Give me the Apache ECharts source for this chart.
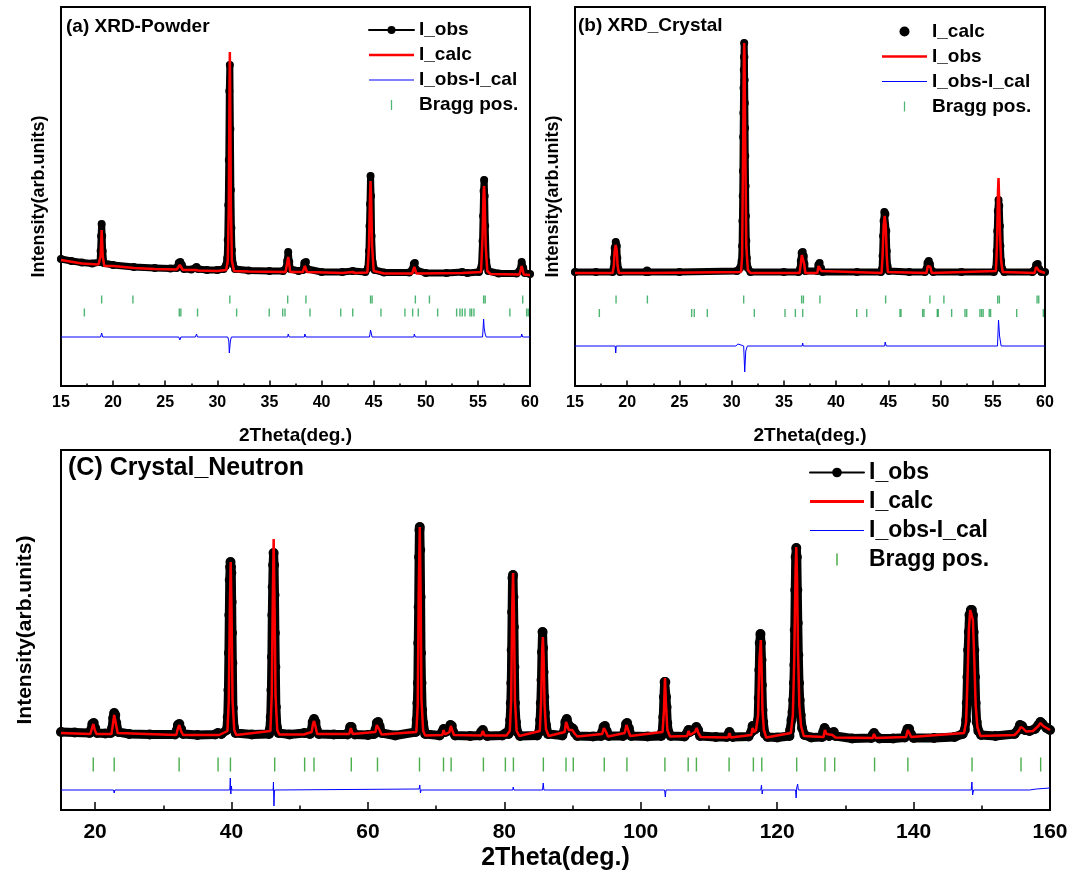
<!DOCTYPE html>
<html>
<head>
<meta charset="utf-8">
<script src="https://cdn.jsdelivr.net/npm/echarts@6/dist/echarts.min.js"></script>
<style>
  html, body { margin: 0; padding: 0; background: #fff; }
  #main { width: 1078px; height: 873px; }
</style>
</head>
<body>
<div id="main"></div>
<script>
// ---- (a) XRD-Powder ----
var aObs = [[15,127],[16,125],[17,123.5],[18,122.5],[18.75,124],[18.8,135],[18.85,150],[18.9,162],[18.95,150],[19.0,135],[19.1,123],[20,121],[22,119],[24,118],[25.5,117.5],[26.1,118],[26.3,123],[26.45,124],[26.6,121],[26.8,117],[27.5,116.5],[27.9,118],[28.0,119],[28.15,117],[29,116],[30,116],[30.6,117],[30.8,120],[30.95,128],[31.0,146],[31.05,181],[31.1,226],[31.15,295],[31.2,321],[31.25,257],[31.3,196],[31.35,158],[31.4,136],[31.5,122],[31.7,117],[33,115.5],[35,115],[36.3,115],[36.6,118],[36.7,125],[36.8,134],[36.9,124],[37.0,117],[37.8,115],[38.2,116],[38.35,123],[38.5,124],[38.65,117],[40,114],[42,114],[43,115],[44.2,114],[44.45,118],[44.55,135],[44.6,160],[44.65,182],[44.7,210],[44.75,190],[44.8,150],[44.9,124],[45.1,116],[46,113.5],[48.4,113.5],[48.7,116],[48.85,122],[48.95,123],[49.1,116],[50,113],[52,113],[53.5,114],[54,113],[55.1,114],[55.35,120],[55.45,145],[55.5,170],[55.55,195],[55.6,206],[55.65,190],[55.7,160],[55.8,125],[56.0,115],[57,112.5],[58.7,112.5],[59.05,116],[59.2,124],[59.35,118],[59.5,113],[60,112]];
var aCalc = [[15,126],[17,122.5],[18.6,121.5],[18.8,130],[18.9,156],[19.0,130],[19.15,120],[20,120],[22,118],[24,117],[26.1,116.5],[26.4,121],[26.7,116],[27.9,116],[28.0,118],[28.15,115.5],[30,115],[30.85,116],[31.0,125],[31.1,180],[31.17,300],[31.2,334],[31.23,300],[31.3,180],[31.4,125],[31.6,115],[33,114.5],[36.55,114],[36.8,129],[37.0,114],[38.2,114],[38.4,120],[38.6,114],[42,113],[43,114],[43.2,113],[44.4,113.5],[44.55,140],[44.65,190],[44.7,205],[44.75,190],[44.85,140],[45.0,115],[46,112.5],[48.7,112.5],[48.9,119],[49.1,112.5],[53.5,113],[55.3,114],[55.45,150],[55.55,195],[55.6,200],[55.65,185],[55.75,140],[55.9,115],[56.2,112],[59.0,111.5],[59.2,120],[59.4,111.5],[60,111]];
var aDiff = [[15,49],[18.8,49],[18.9,53],[19.0,49],[26.3,49],[26.4,46],[26.5,49],[27.9,49],[28.0,52],[28.1,49],[31.0,49],[31.1,45],[31.15,33],[31.25,45],[31.35,49],[36.75,49],[36.8,52],[36.9,49],[38.35,49],[38.4,52],[38.5,49],[44.6,49],[44.7,56],[44.85,49],[48.85,49],[48.9,52],[49.0,49],[55.45,49],[55.55,67],[55.6,58],[55.7,52],[55.8,49],[59.15,49],[59.2,52],[59.3,49],[60,49]];
var aBraggTop = [18.9,21.9,31.2,36.75,38.5,44.7,44.85,49.0,50.35,55.55,55.7,59.3];
var aBraggLow = [17.24,26.35,26.5,28.1,31.85,34.98,36.27,36.49,38.89,41.84,42.99,45.7,48.0,48.74,49.28,51.14,52.96,53.28,53.5,53.76,54.24,54.4,54.62,58.07,59.68,59.83];

// ---- (b) XRD_Crystal ----
var bObs = [[15,114],[17,114],[18.6,114],[18.7,118],[18.75,128],[18.8,138],[18.9,144],[19.0,140],[19.05,128],[19.15,117],[19.3,114],[21.8,114],[21.9,115.5],[22.0,114],[25,114],[30.5,115],[30.8,118],[30.95,125],[31.0,140],[31.03,165],[31.06,190],[31.08,215],[31.1,249],[31.12,273],[31.14,298],[31.16,316],[31.18,329],[31.2,343],[31.22,329],[31.24,306],[31.26,283],[31.28,258],[31.3,230],[31.33,200],[31.36,170],[31.4,145],[31.45,128],[31.55,118],[31.8,114],[35,114],[36.4,114],[36.55,117],[36.62,125],[36.7,133],[36.8,134],[36.9,130],[36.97,122],[37.05,115],[38.2,115],[38.3,121],[38.42,123],[38.55,118],[38.7,114],[42,114],[44.3,114],[44.4,117],[44.45,130],[44.5,150],[44.55,165],[44.62,174],[44.72,172],[44.8,155],[44.85,135],[44.92,120],[45.05,115],[47,114],[48.5,114],[48.65,117],[48.75,123],[48.87,125],[48.98,122],[49.1,116],[49.3,114],[52,114],[55.1,114],[55.3,118],[55.38,135],[55.43,155],[55.48,175],[55.55,186],[55.62,180],[55.68,160],[55.73,140],[55.8,125],[55.9,117],[56.1,114],[58.8,114],[59.0,116],[59.15,121],[59.3,122],[59.45,117],[59.65,114],[60,114]];
var bCalc = [[15,113],[18.6,113],[18.72,120],[18.8,135],[18.9,141],[19.0,135],[19.08,120],[19.2,113],[21.8,113],[21.9,115],[22.0,113],[30.9,114],[31.0,130],[31.1,240],[31.17,330],[31.2,343],[31.23,330],[31.3,240],[31.4,140],[31.55,116],[31.8,113],[36.5,113],[36.62,122],[36.72,131],[36.85,131],[36.95,122],[37.05,113],[38.2,113],[38.32,120],[38.45,121],[38.58,115],[38.7,113],[44.35,113],[44.45,130],[44.55,160],[44.65,170],[44.75,160],[44.85,130],[44.95,114],[45.1,113],[48.65,113],[48.78,120],[48.9,122],[49.02,119],[49.15,113],[55.3,115],[55.4,140],[55.5,195],[55.55,208],[55.6,190],[55.7,150],[55.8,125],[55.95,114],[59.0,113],[59.15,119],[59.3,120],[59.45,115],[59.6,113],[60,113]];
var bDiff = [[15,40],[18.85,40],[18.9,33],[18.95,40],[30.4,40],[30.6,42],[30.9,41],[31.15,40],[31.25,14],[31.35,35],[31.5,40],[36.75,40],[36.8,43],[36.85,40],[44.65,40],[44.7,44],[44.8,40],[55.45,40],[55.55,66],[55.65,50],[55.8,40],[60,40]];
var bBraggTop = [18.93,21.93,31.15,36.7,36.87,38.45,44.74,48.98,50.32,55.47,55.63,59.24,59.4];
var bBraggLow = [17.33,26.17,26.42,27.67,32.17,35.11,36.1,36.8,41.97,42.93,46.12,46.21,48.29,48.41,49.69,49.78,51.06,52.34,52.5,53.77,53.93,54.08,54.66,54.79,57.29,59.84];

// ---- (C) Crystal_Neutron ----
var cObs = [[15,78],[17,77.5],[19.2,77],[19.4,80],[19.6,86],[19.8,87],[20.0,82],[20.3,77],[21.5,76.5],[22.3,77],[22.5,82],[22.65,92],[22.8,97],[22.95,95],[23.1,87],[23.4,78],[25,76],[28,75.5],[31.7,75.5],[31.95,79],[32.15,85],[32.35,86],[32.6,81],[32.9,76],[35,75],[37.6,75.5],[38.0,77],[38.5,76],[39.3,80],[39.45,93],[39.55,120],[39.62,157],[39.68,195],[39.74,230],[39.8,243],[39.85,248],[39.92,243],[39.97,237],[40.02,208],[40.07,177],[40.12,147],[40.2,102],[40.35,83],[40.6,77],[43,75.5],[45.5,76],[45.6,80],[45.75,93],[45.85,120],[45.92,153],[45.98,195],[46.04,223],[46.1,245],[46.17,257],[46.24,245],[46.3,215],[46.36,177],[46.42,143],[46.5,103],[46.65,83],[46.9,77],[48.5,75.5],[50.7,77],[51.5,76],[51.7,79],[51.9,88],[52.1,91],[52.3,88],[52.5,80],[52.8,76],[55,75.5],[57.0,75.5],[57.2,78],[57.4,83],[57.6,83],[57.8,78],[58.1,75.5],[60,75],[60.9,76],[61.1,80],[61.3,87],[61.5,88],[61.7,84],[62.0,77],[64,74.5],[67.0,78],[67.15,90],[67.25,107],[67.32,127],[67.38,167],[67.44,203],[67.5,253],[67.55,280],[67.6,283],[67.66,260],[67.72,213],[67.78,157],[67.85,127],[67.95,100],[68.1,87],[68.4,76],[70.5,74.5],[70.9,78],[71.1,81],[71.35,78],[71.9,80],[72.1,85],[72.3,84],[72.5,78],[72.8,74.5],[75,74],[76.4,74.5],[76.6,78],[76.85,80],[77.1,76],[77.5,74],[79.7,74.5],[80.15,76.5],[80.6,76],[80.7,80],[80.85,90],[80.95,107],[81.02,127],[81.08,160],[81.14,198],[81.2,232],[81.27,235],[81.33,213],[81.4,183],[81.47,143],[81.55,107],[81.7,88],[81.9,78],[82.3,74],[84.8,74.5],[85.1,78],[85.25,90],[85.35,107],[85.45,130],[85.52,158],[85.6,178],[85.68,162],[85.75,138],[85.85,113],[85.95,97],[86.1,85],[86.4,76],[88.5,74.5],[88.8,80],[88.95,88],[89.15,91],[89.4,85],[89.9,82],[90.1,81],[90.35,77],[90.7,74],[93,73.5],[94.2,74],[94.35,78],[94.55,83],[94.75,84],[95.0,79],[95.3,74],[97.4,74],[97.65,79],[97.85,86],[98.0,87],[98.25,82],[98.6,74],[101,73.5],[103.0,74],[103.15,78],[103.3,93],[103.4,113],[103.5,128],[103.6,128],[103.7,113],[103.78,103],[103.88,87],[104.05,78],[104.4,74],[106.4,73.5],[106.8,77],[107.0,80],[107.2,78],[107.9,80],[108.15,83],[108.4,80],[108.7,74],[111,73],[112.6,73],[112.85,75],[113.0,78],[113.2,75],[113.5,73],[115.8,73.5],[116.2,78],[116.4,84],[116.6,80],[117.0,82],[117.2,90],[117.3,112],[117.38,140],[117.45,167],[117.55,176],[117.62,167],[117.7,150],[117.76,125],[117.85,100],[117.95,88],[118.2,76],[118.6,73],[120,72.5],[121.8,74],[121.9,80],[122.1,90],[122.25,98],[122.35,110],[122.45,127],[122.52,145],[122.58,180],[122.65,220],[122.72,253],[122.8,262],[122.88,253],[122.95,220],[123.02,187],[123.1,155],[123.2,127],[123.3,110],[123.45,95],[123.65,82],[124.0,75],[125,72.5],[126.6,73],[126.75,78],[126.95,82],[127.2,79],[127.6,74],[128.1,77],[128.3,78],[128.55,74],[131,71.5],[133.8,72],[134.0,75],[134.2,77],[134.5,74],[135,71.5],[137,71.5],[138.7,72.5],[138.9,77],[139.1,81],[139.35,81],[139.6,76],[140,72],[143,72],[146,73],[147.2,76],[147.5,80],[147.7,90],[147.8,107],[147.9,133],[148.0,160],[148.1,178],[148.2,195],[148.4,200],[148.55,200],[148.7,195],[148.8,178],[148.9,160],[149.0,133],[149.1,107],[149.25,88],[149.5,79],[149.9,75],[152,74],[154.8,76],[155.3,80],[155.6,85],[155.9,84],[156.3,80],[157,79],[157.8,81],[158.3,85],[158.6,88],[158.9,86],[159.5,82],[160,80]];
var cCalc = [[15,77],[19.3,76],[19.55,82],[19.75,86],[19.95,80],[20.2,76],[22.4,76],[22.6,85],[22.8,95],[23.0,88],[23.3,77],[31.9,75],[32.15,82],[32.35,85],[32.6,79],[32.9,75],[37.8,75],[38.0,76.5],[38.2,75],[39.4,79],[39.6,110],[39.75,200],[39.88,248],[40.0,200],[40.15,110],[40.4,80],[40.7,75],[45.7,79],[45.9,115],[46.05,210],[46.18,271],[46.3,210],[46.45,115],[46.7,80],[47.0,75.5],[50.6,75.5],[50.7,77],[50.8,75.5],[51.75,78],[51.95,86],[52.1,89],[52.3,84],[52.55,76],[57.25,76],[57.5,82],[57.75,76],[61.1,78],[61.3,85],[61.45,87],[61.7,80],[62.0,75.5],[67.1,78],[67.3,105],[67.45,220],[67.6,283],[67.72,220],[67.85,110],[68.1,79],[68.4,74.5],[70.9,75],[71.1,80],[71.3,75.5],[71.95,78],[72.15,84],[72.35,82],[72.6,75],[76.6,74.5],[76.85,79],[77.1,74.5],[80.0,74.5],[80.15,76],[80.3,74.5],[80.8,79],[81.0,110],[81.15,200],[81.28,237],[81.4,200],[81.55,110],[81.8,79],[82.2,74],[85.2,79],[85.4,110],[85.55,160],[85.65,173],[85.77,150],[85.9,105],[86.1,81],[86.5,74],[88.85,78],[89.05,88],[89.2,89],[89.45,80],[89.95,80],[90.1,80],[90.35,76],[90.7,73.5],[94.35,76],[94.6,82],[94.85,79],[95.2,73.5],[97.65,77],[97.9,85],[98.1,84],[98.45,74],[103.2,78],[103.4,100],[103.55,132],[103.7,105],[103.9,80],[104.3,73.5],[106.8,74],[107.0,79],[107.2,75],[107.95,78],[108.2,82],[108.45,77],[108.8,73],[112.8,72.5],[113.0,77],[113.2,72.5],[116.2,75],[116.4,82],[116.6,78],[116.9,80],[117.2,95],[117.4,150],[117.6,170],[117.72,140],[117.85,100],[118.05,80],[118.4,72.5],[122.0,77],[122.3,95],[122.5,150],[122.7,240],[122.8,263],[122.92,230],[123.05,160],[123.25,105],[123.5,84],[123.9,74],[126.8,73],[127.0,80],[127.25,76],[128.1,75],[128.3,77],[128.55,72.5],[134.0,72],[134.2,76],[134.45,72],[138.9,73],[139.15,80],[139.35,79],[139.65,73],[147.4,77],[147.7,88],[147.9,130],[148.1,180],[148.3,200],[148.5,202],[148.7,190],[148.9,150],[149.1,105],[149.35,83],[149.8,74],[154.8,75],[155.4,79],[155.7,83],[156.0,82],[156.5,78.5],[157.5,79],[158.3,84],[158.6,87],[159.0,84],[160,80]];
var cDiff = [[15,20],[22.7,20],[22.8,17],[22.9,20],[39.75,20],[39.82,32],[39.9,16],[39.98,24],[40.05,20],[46.1,20],[46.15,28],[46.22,4],[46.3,20],[67.5,21],[67.6,25],[67.7,17],[67.8,20],[81.25,20],[81.3,23],[81.4,20],[85.6,20],[85.7,27],[85.8,20],[103.5,20],[103.6,13],[103.7,20],[117.6,20],[117.7,25],[117.8,16],[117.9,20],[122.7,20],[122.78,12],[122.86,22],[123.0,26],[123.1,20],[148.45,20],[148.55,28],[148.65,15],[148.8,20],[157,20],[158,21],[160,22]];
var cBragg = [19.73,22.8,32.32,38.03,39.84,46.33,50.72,52.09,57.56,61.4,67.56,71.08,72.2,76.93,80.15,81.33,85.72,89.04,90.11,94.65,97.97,103.54,106.95,108.16,112.95,116.51,117.74,122.86,127.01,128.43,134.28,139.16,148.57,155.75,158.63];
var cMajorTicks = [20, 40, 60, 80, 100, 120, 140, 160];
var cMinorTicks = [30, 50, 70, 90, 110, 130, 150];

var FONT = "'Liberation Sans', Arial, sans-serif";
var txt = function (size) {
    return { color: '#000', fontSize: size, lineHeight: size, fontWeight: 'bold', fontFamily: FONT };
};

function panel(i, labels, obs, calc, diff, rows, dot, green, tickH) {
    var bragg = [];
    rows.forEach(function (r) {
        r.pos.forEach(function (x) { bragg.push([x, r.y]); });
    });
    return [
        {
            name: labels[0], type: 'line', xAxisIndex: i, yAxisIndex: i, data: obs,
            color: '#000', symbol: 'circle', symbolSize: dot, showAllSymbol: true,
            lineStyle: { width: dot - 1, join: 'round', cap: 'round' }, z: 2
        },
        {
            name: labels[1], type: 'line', xAxisIndex: i, yAxisIndex: i, data: calc,
            color: '#ff0000', symbol: 'none', lineStyle: { width: 2.5 }, z: 3
        },
        {
            name: labels[2], type: 'line', xAxisIndex: i, yAxisIndex: i, data: diff,
            color: '#0000ff', symbol: 'none', lineStyle: { width: 1 }, z: 3
        },
        {
            name: labels[3], type: 'scatter', xAxisIndex: i, yAxisIndex: i, data: bragg,
            color: green, symbol: 'rect', symbolSize: [1.4, tickH], z: 3
        }
    ];
}

function xAx(grid, fs, titleFs, margin, gap) {
    return {
        gridIndex: grid, type: 'value', min: 15, max: 60, interval: 5,
        axisLine: { lineStyle: { color: '#000', width: 2 } },
        axisTick: { inside: true, length: 5.5, lineStyle: { color: '#000', width: 1.5 } },
        minorTick: { show: true, splitNumber: 2, length: 2.5, lineStyle: { color: '#000', width: 1.5 } },
        axisLabel: Object.assign(txt(fs), { margin: margin, showMinLabel: true, showMaxLabel: true }),
        splitLine: { show: false },
        name: '2Theta(deg.)', nameLocation: 'middle', nameGap: gap, nameTextStyle: txt(titleFs)
    };
}

function yAx(grid, max, fs, gap) {
    return {
        gridIndex: grid, type: 'value', min: 0, max: max,
        axisLine: { show: false }, axisTick: { show: false }, axisLabel: { show: false },
        splitLine: { show: false },
        name: 'Intensity(arb.units)', nameLocation: 'middle', nameGap: gap, nameTextStyle: txt(fs)
    };
}

var fmt = function (n) { return n.split('|')[1]; };
var lineIcon = 'path://M0,0H45V2.5H0Z';
var thinIcon = 'path://M0,0H45V1H0Z';
var tickIcon = 'path://M0,0H1V8H0Z';
var noBorder = { borderWidth: 0 };

var option = {
    animation: false,
    backgroundColor: '#fff',
    title: [
        { text: '(a) XRD-Powder', left: 66, top: 17.5, padding: 0, textStyle: txt(19) },
        { text: '(b) XRD_Crystal', left: 578, top: 16.5, padding: 0, textStyle: txt(19) },
        { text: '(C) Crystal_Neutron', left: 68, top: 456, padding: 0, textStyle: txt(25) }
    ],
    legend: [
        {
            left: 368, top: 20.5, orient: 'vertical', padding: 0, itemWidth: 45, itemHeight: 10, itemGap: 6,
            selectedMode: false, formatter: fmt, textStyle: txt(19),
            data: [
                { name: 'a|I_obs', lineStyle: { width: 2 } },
                { name: 'a|I_calc', icon: lineIcon, itemStyle: noBorder },
                { name: 'a|I_obs-I_cal', icon: thinIcon, itemStyle: noBorder },
                { name: 'a|Bragg pos.', icon: tickIcon, itemStyle: noBorder }
            ]
        },
        {
            left: 882, top: 22, orient: 'vertical', padding: 0, itemWidth: 45, itemHeight: 10, itemGap: 6,
            selectedMode: false, formatter: fmt, textStyle: txt(19),
            data: [
                { name: 'b|I_calc', icon: 'circle', itemStyle: noBorder },
                { name: 'b|I_obs', icon: lineIcon, itemStyle: noBorder },
                { name: 'b|I_obs-I_cal', icon: thinIcon, itemStyle: noBorder },
                { name: 'b|Bragg pos.', icon: tickIcon, itemStyle: noBorder }
            ]
        },
        {
            left: 809, top: 461, orient: 'vertical', padding: 0, itemWidth: 54, itemHeight: 12, itemGap: 6,
            selectedMode: false, formatter: fmt, textStyle: txt(23),
            data: [
                { name: 'c|I_obs', lineStyle: { width: 2 } },
                { name: 'c|I_calc', icon: 'path://M0,0H54V3H0Z', itemStyle: noBorder },
                { name: 'c|I_obs-I_cal', icon: 'path://M0,0H54V1H0Z', itemStyle: noBorder },
                { name: 'c|Bragg pos.', icon: tickIcon, itemStyle: noBorder }
            ]
        }
    ],
    grid: [
        { left: 61, top: 7, width: 469, height: 379, show: true, borderColor: '#000', borderWidth: 2 },
        { left: 575, top: 7, width: 470, height: 379, show: true, borderColor: '#000', borderWidth: 2 },
        { left: 61, top: 450, width: 989, height: 360, show: true, borderColor: '#000', borderWidth: 2 }
    ],
    xAxis: [
        xAx(0, 16, 19, 9, 40),
        xAx(1, 16, 19, 9, 40),
        {
            gridIndex: 2, type: 'value', min: 15, max: 160, position: 'bottom',
            axisLine: { lineStyle: { color: '#000', width: 2 } },
            axisTick: { inside: true, length: 8, customValues: cMajorTicks, lineStyle: { color: '#000', width: 1.5 } },
            axisLabel: Object.assign(txt(21), { margin: 12, customValues: cMajorTicks }),
            splitLine: { show: false },
            name: '2Theta(deg.)', nameLocation: 'middle', nameGap: 36, nameTextStyle: txt(25)
        },
        {
            gridIndex: 2, type: 'value', min: 15, max: 160, position: 'bottom',
            axisLine: { show: false },
            axisTick: { inside: true, length: 4.5, customValues: cMinorTicks, lineStyle: { color: '#000', width: 1.5 } },
            axisLabel: { show: false },
            splitLine: { show: false }
        }
    ],
    yAxis: [
        yAx(0, 379, 18, 13),
        yAx(1, 379, 18, 13),
        yAx(2, 360, 21, 25)
    ],
    series: [].concat(
        panel(0, ['a|I_obs', 'a|I_calc', 'a|I_obs-I_cal', 'a|Bragg pos.'], aObs, aCalc, aDiff,
            [{ y: 86.5, pos: aBraggTop }, { y: 73.5, pos: aBraggLow }], 8, '#23a350', 8),
        panel(1, ['b|I_calc', 'b|I_obs', 'b|I_obs-I_cal', 'b|Bragg pos.'], bObs, bCalc, bDiff,
            [{ y: 86.5, pos: bBraggTop }, { y: 73, pos: bBraggLow }], 8, '#23a350', 8),
        panel(2, ['c|I_obs', 'c|I_calc', 'c|I_obs-I_cal', 'c|Bragg pos.'], cObs, cCalc, cDiff,
            [{ y: 45.5, pos: cBragg }], 10, '#1f9a1f', 14)
    )
};

echarts.init(document.getElementById('main')).setOption(option);
</script>
</body>
</html>
